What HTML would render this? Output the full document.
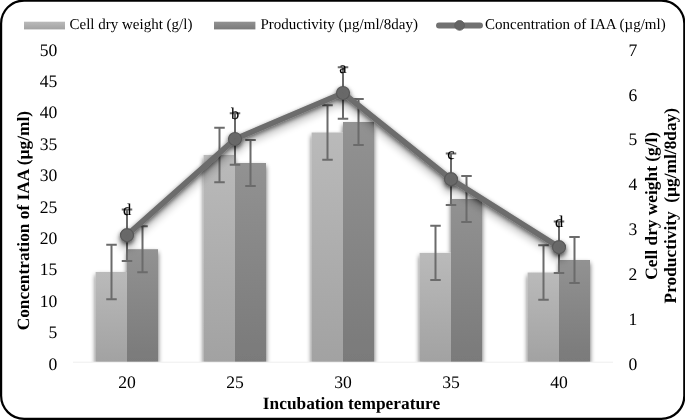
<!DOCTYPE html>
<html><head><meta charset="utf-8"><style>
html,body{margin:0;padding:0;background:#fff;}
body{width:685px;height:420px;overflow:hidden;}
svg{display:block;will-change:transform;}
text{font-family:"Liberation Serif",serif;text-rendering:geometricPrecision;}
</style></head><body>
<svg width="685" height="420" viewBox="0 0 685 420">
<defs>
<linearGradient id="gl" x1="0" y1="0" x2="0" y2="1"><stop offset="0" stop-color="#bababa"/><stop offset="1" stop-color="#a2a2a2"/></linearGradient>
<linearGradient id="gd" x1="0" y1="0" x2="0" y2="1"><stop offset="0" stop-color="#929292"/><stop offset="1" stop-color="#7a7a7a"/></linearGradient>
<filter id="sh" x="-30%" y="-30%" width="160%" height="160%"><feGaussianBlur in="SourceAlpha" stdDeviation="2.5"/><feOffset dx="0" dy="2.5" result="b"/><feComponentTransfer><feFuncA type="linear" slope="0.65"/></feComponentTransfer><feMerge><feMergeNode/><feMergeNode in="SourceGraphic"/></feMerge></filter>
<clipPath id="pc"><rect x="60" y="30" width="570" height="331.8"/></clipPath>
<filter id="lsh" x="-10%" y="-20%" width="120%" height="150%"><feGaussianBlur in="SourceAlpha" stdDeviation="2.2" result="b1"/><feOffset in="b1" dx="0" dy="2.0" result="o1"/><feComponentTransfer in="o1" result="s1"><feFuncA type="linear" slope="0.6"/></feComponentTransfer><feGaussianBlur in="SourceAlpha" stdDeviation="4.0" result="b2"/><feOffset in="b2" dx="0" dy="5.5" result="o2"/><feComponentTransfer in="o2" result="s2"><feFuncA type="linear" slope="0.35"/></feComponentTransfer><feMerge><feMergeNode in="s2"/><feMergeNode in="s1"/><feMergeNode in="SourceGraphic"/></feMerge></filter>
<radialGradient id="gm" cx="0.5" cy="0.5" r="0.5"><stop offset="0" stop-color="#666666"/><stop offset="1" stop-color="#6a6a6a"/></radialGradient>
</defs>
<rect x="1.1" y="0.55" width="683.1999999999999" height="418.3" rx="23.0" ry="23.0" fill="none" stroke="#000" stroke-width="2.2"/>
<rect x="24" y="21.7" width="41" height="7.7" fill="url(#gl)"/>
<text x="69.5" y="29.4" font-size="15" fill="#000">Cell dry weight (g/l)</text>
<rect x="214" y="21.7" width="41.4" height="7.7" fill="url(#gd)"/>
<text x="260.5" y="29.4" font-size="15" fill="#000">Productivity (µg/ml/8day)</text>
<line x1="439" y1="25.5" x2="480" y2="25.5" stroke="#717171" stroke-width="5.9" stroke-linecap="round"/>
<circle cx="459.6" cy="25.4" r="4.9" fill="#646464" stroke="#5c5c5c" stroke-width="0.8"/>
<text x="485" y="29.4" font-size="15" fill="#000">Concentration of IAA (µg/ml)</text>
<line x1="73" y1="362.2" x2="613" y2="362.2" stroke="#eeeeee" stroke-width="1"/>
<text x="57.3" y="369.6" font-size="17.6" text-anchor="end">0</text>
<text x="57.3" y="338.2" font-size="17.6" text-anchor="end">5</text>
<text x="57.3" y="306.8" font-size="17.6" text-anchor="end">10</text>
<text x="57.3" y="275.4" font-size="17.6" text-anchor="end">15</text>
<text x="57.3" y="244.0" font-size="17.6" text-anchor="end">20</text>
<text x="57.3" y="212.6" font-size="17.6" text-anchor="end">25</text>
<text x="57.3" y="181.2" font-size="17.6" text-anchor="end">30</text>
<text x="57.3" y="149.8" font-size="17.6" text-anchor="end">35</text>
<text x="57.3" y="118.4" font-size="17.6" text-anchor="end">40</text>
<text x="57.3" y="87.0" font-size="17.6" text-anchor="end">45</text>
<text x="57.3" y="55.6" font-size="17.6" text-anchor="end">50</text>
<text x="628.5" y="369.6" font-size="17.6">0</text>
<text x="628.5" y="324.7" font-size="17.6">1</text>
<text x="628.5" y="279.9" font-size="17.6">2</text>
<text x="628.5" y="235.0" font-size="17.6">3</text>
<text x="628.5" y="190.2" font-size="17.6">4</text>
<text x="628.5" y="145.3" font-size="17.6">5</text>
<text x="628.5" y="100.5" font-size="17.6">6</text>
<text x="628.5" y="55.6" font-size="17.6">7</text>
<text x="127" y="387.8" font-size="17.6" text-anchor="middle">20</text>
<text x="235" y="387.8" font-size="17.6" text-anchor="middle">25</text>
<text x="343" y="387.8" font-size="17.6" text-anchor="middle">30</text>
<text x="451" y="387.8" font-size="17.6" text-anchor="middle">35</text>
<text x="559" y="387.8" font-size="17.6" text-anchor="middle">40</text>
<text x="351.5" y="408.8" font-size="17.33" font-weight="bold" text-anchor="middle">Incubation temperature</text>
<text transform="translate(29.0,220.7) rotate(-90)" font-size="17.33" font-weight="bold" text-anchor="middle">Concentration of IAA (µg/ml)</text>
<text transform="translate(656.7,205.8) rotate(-90)" font-size="17.33" font-weight="bold" text-anchor="middle">Cell dry weight (g/l)</text>
<text transform="translate(676,205.7) rotate(-90)" font-size="17.33" font-weight="bold" text-anchor="middle" xml:space="preserve">Productivity  (µg/ml/8day)</text>
<g clip-path="url(#pc)"><g filter="url(#sh)">
<rect x="95.6" y="272.0" width="31.4" height="89.80000000000001" fill="url(#gl)"/>
<rect x="203.6" y="155.0" width="31.4" height="206.8" fill="url(#gl)"/>
<rect x="311.6" y="132.5" width="31.4" height="229.3" fill="url(#gl)"/>
<rect x="419.6" y="252.9" width="31.4" height="108.9" fill="url(#gl)"/>
<rect x="527.6" y="272.5" width="31.4" height="89.30000000000001" fill="url(#gl)"/>
<rect x="127" y="249.2" width="31" height="112.60000000000002" fill="url(#gd)"/>
<rect x="235" y="163.0" width="31" height="198.8" fill="url(#gd)"/>
<rect x="343" y="122.0" width="31" height="239.8" fill="url(#gd)"/>
<rect x="451" y="199.0" width="31" height="162.8" fill="url(#gd)"/>
<rect x="559" y="260.0" width="31" height="101.80000000000001" fill="url(#gd)"/>
</g></g>
<path d="M111.5,244.8V299.2M106.25,244.8H116.75M106.25,299.2H116.75" stroke="#6b6b6b" stroke-width="2" fill="none"/>
<path d="M142.5,226.2V272.2M137.25,226.2H147.75M137.25,272.2H147.75" stroke="#6b6b6b" stroke-width="2" fill="none"/>
<path d="M219.5,127.8V182.2M214.25,127.8H224.75M214.25,182.2H224.75" stroke="#6b6b6b" stroke-width="2" fill="none"/>
<path d="M250.5,140.0V186.0M245.25,140.0H255.75M245.25,186.0H255.75" stroke="#6b6b6b" stroke-width="2" fill="none"/>
<path d="M327.5,105.3V159.7M322.25,105.3H332.75M322.25,159.7H332.75" stroke="#6b6b6b" stroke-width="2" fill="none"/>
<path d="M358.5,99.0V145.0M353.25,99.0H363.75M353.25,145.0H363.75" stroke="#6b6b6b" stroke-width="2" fill="none"/>
<path d="M435.5,225.70000000000002V280.1M430.25,225.70000000000002H440.75M430.25,280.1H440.75" stroke="#6b6b6b" stroke-width="2" fill="none"/>
<path d="M466.5,176.0V222.0M461.25,176.0H471.75M461.25,222.0H471.75" stroke="#6b6b6b" stroke-width="2" fill="none"/>
<path d="M543.5,245.3V299.7M538.25,245.3H548.75M538.25,299.7H548.75" stroke="#6b6b6b" stroke-width="2" fill="none"/>
<path d="M574.5,237.0V283.0M569.25,237.0H579.75M569.25,283.0H579.75" stroke="#6b6b6b" stroke-width="2" fill="none"/>
<path d="M127,209.39999999999998V261.0M121.75,209.39999999999998H132.25M121.75,261.0H132.25" stroke="#6b6b6b" stroke-width="2" fill="none"/>
<path d="M235,113.2V164.8M229.75,113.2H240.25M229.75,164.8H240.25" stroke="#6b6b6b" stroke-width="2" fill="none"/>
<path d="M343,67.2V118.8M337.75,67.2H348.25M337.75,118.8H348.25" stroke="#6b6b6b" stroke-width="2" fill="none"/>
<path d="M451,153.39999999999998V205.0M445.75,153.39999999999998H456.25M445.75,205.0H456.25" stroke="#6b6b6b" stroke-width="2" fill="none"/>
<path d="M559,221.39999999999998V273.0M553.75,221.39999999999998H564.25M553.75,273.0H564.25" stroke="#6b6b6b" stroke-width="2" fill="none"/>
<g filter="url(#lsh)"><polyline points="127,235.2 235,139.0 343,93.0 451,179.2 559,247.2" fill="none" stroke="#6c6c6c" stroke-width="5.6" stroke-linejoin="round"/>
<circle cx="127" cy="235.2" r="6.5" fill="url(#gm)" stroke="#585858" stroke-width="1.2"/>
<circle cx="235" cy="139.0" r="6.5" fill="url(#gm)" stroke="#585858" stroke-width="1.2"/>
<circle cx="343" cy="93.0" r="6.5" fill="url(#gm)" stroke="#585858" stroke-width="1.2"/>
<circle cx="451" cy="179.2" r="6.5" fill="url(#gm)" stroke="#585858" stroke-width="1.2"/>
<circle cx="559" cy="247.2" r="6.5" fill="url(#gm)" stroke="#585858" stroke-width="1.2"/>
</g>
<text x="127" y="214.9" font-size="16.5" text-anchor="middle" stroke="#000" stroke-width="0.1">d</text>
<text x="235" y="118.7" font-size="16.5" text-anchor="middle" stroke="#000" stroke-width="0.1">b</text>
<text x="343" y="72.7" font-size="16.5" text-anchor="middle" stroke="#000" stroke-width="0.1">a</text>
<text x="451" y="158.9" font-size="16.5" text-anchor="middle" stroke="#000" stroke-width="0.1">c</text>
<text x="559" y="226.9" font-size="16.5" text-anchor="middle" stroke="#000" stroke-width="0.1">d</text>
</svg>
</body></html>
